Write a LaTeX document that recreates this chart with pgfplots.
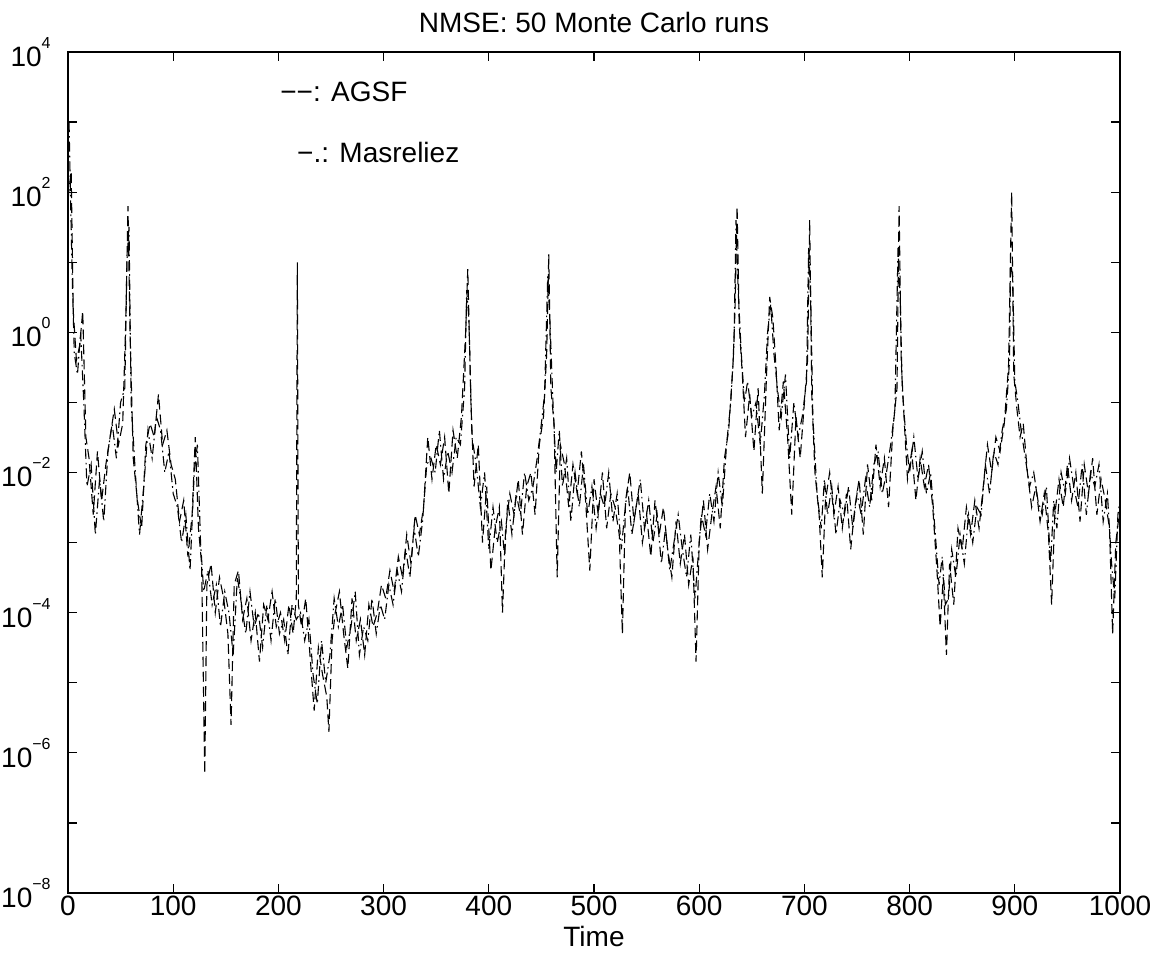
\documentclass[border=0pt]{standalone}
\usepackage{pgfplots}
\pgfplotsset{compat=1.18}
\usepackage{fontspec}
\setmainfont{Liberation Sans}
\newcommand{\tl}[1]{10\raisebox{9pt}{\fontsize{8}{9}\selectfont #1}}
\begin{document}
\fontsize{14}{17}\selectfont
\begin{tikzpicture}[font=\fontsize{14}{17}\selectfont]
\begin{axis}[
 scale only axis, width=526pt, height=420.5pt,
 xmin=0, xmax=1000, ymode=log, ymin=1e-8, ymax=1e4,
 xtick={0,100,200,300,400,500,600,700,800,900,1000},
 xticklabels={0,100,200,300,400,500,600,700,800,900,1000},
 ytick={1e-8,1e-7,1e-6,1e-5,1e-4,1e-3,1e-2,1e-1,1,1e1,1e2,1e3,1e4},
 yticklabels={\tl{−8},{},\tl{−6},{},\tl{−4},{},\tl{−2},{},\tl{0},{},\tl{2},{},\tl{4}},
 yminorticks=false, xminorticks=false,
 major tick length=4.5pt,
 axis line style={line width=0.6pt},
 tick style={line width=0.6pt, black},
 every axis title/.style={at={(axis description cs:0.5,1)}, anchor=base, yshift=10pt, inner sep=0pt},
 every axis x label/.style={at={(axis description cs:0.5,0)}, anchor=base, yshift=-26.5pt, inner sep=0pt},
 xticklabel style={anchor=base, yshift=-11pt, inner sep=0pt},
 yticklabel style={anchor=east, xshift=-8.5pt, inner sep=0pt},
 title={NMSE: 50 Monte Carlo runs},
 xlabel={Time},
]
\coordinate (sw) at (rel axis cs:0,0);
\coordinate (ne) at (rel axis cs:1,1);
% AGSF (dashed)
\addplot[black, line width=0.55pt, dash pattern=on 5pt off 2.5pt] table {
t y
0 80
3 200
5 2
8 0.4
11 0.63
14 2
17 0.032
20 0.016
24 0.0025
28 0.02
32 0.004
36 0.013
40 0.032
44 0.08
48 0.025
52 0.05
55 1.6
57 63
59 1
62 0.016
66 0.004
70 0.0016
74 0.025
78 0.05
82 0.032
86 0.13
90 0.025
94 0.04
98 0.013
102 0.008
106 0.002
110 0.004
114 6.3e-4
118 0.0025
121 0.032
124 0.0016
127 5e-4
130 5e-7
132 2.5e-4
136 5e-4
140 1e-4
144 3.2e-4
148 1.6e-4
152 5e-5
155 2.5e-6
158 2.5e-4
162 4e-4
166 8e-5
170 1.6e-4
174 4e-5
178 1e-4
182 2e-5
186 1.3e-4
190 8e-5
194 2e-4
198 6.3e-5
202 1e-4
206 4e-5
210 1.3e-4
214 5e-5
217 1.6e-4
218 10
219 1.3e-4
222 6.3e-5
226 1.6e-4
230 2.5e-5
234 4e-6
238 3.2e-5
242 1.3e-5
246 6.3e-6
248 2e-6
251 4e-5
254 1e-4
258 2e-4
262 5e-5
266 1.6e-5
270 1.6e-4
274 4e-5
278 8e-5
282 2.5e-5
286 1.3e-4
290 6.3e-5
294 1e-4
298 2.5e-4
302 1.6e-4
306 4e-4
310 2e-4
314 6.3e-4
318 3.2e-4
322 1.3e-3
326 5e-4
330 2.5e-3
334 1.3e-3
338 3.2e-3
342 0.032
346 0.008
350 0.025
354 0.013
358 0.032
362 0.005
366 0.04
370 0.016
374 0.063
378 1
380 8
383 0.1
386 0.0063
390 0.025
394 0.001
398 0.0063
402 4e-4
406 1.6e-3
410 3.2e-3
413 1e-4
416 1.6e-3
420 5e-3
424 2.5e-3
428 8e-3
432 1.3e-3
436 6.3e-3
440 0.01
444 2.5e-3
448 0.025
452 0.063
455 0.5
457 13
459 0.16
462 0.05
465 3.2e-4
468 0.025
472 0.013
476 3.2e-3
480 0.013
484 5e-3
488 0.02
492 4e-3
496 4e-4
500 8e-3
504 2.5e-3
508 0.01
512 1.6e-3
516 5e-3
520 3.2e-3
524 1.3e-3
527 5e-5
530 4e-3
534 0.01
538 2e-3
542 5e-3
546 1e-3
550 2.5e-3
554 6.3e-4
558 4e-3
562 1.3e-3
566 3.2e-3
570 8e-4
574 3.2e-4
578 2e-3
582 5e-4
586 1.3e-3
590 2.5e-4
594 6.3e-4
597 2e-5
600 1e-3
604 4e-3
608 8e-4
612 2.5e-3
616 6.3e-3
620 1.6e-3
624 0.016
628 0.04
632 0.32
634 2
636 63
638 1.3
641 0.25
644 0.032
648 0.13
652 0.02
656 0.16
660 5e-3
664 0.25
667 3.2
670 1.6
673 0.32
676 0.04
680 0.2
684 0.032
688 2.5e-3
692 0.063
696 0.016
700 0.1
703 0.4
705 40
707 0.13
710 0.01
714 2.5e-3
717 3.2e-4
720 4e-3
724 0.01
728 2.5e-3
732 6.3e-3
736 1.6e-3
740 5e-3
744 8e-4
748 3.2e-3
752 8e-3
756 1.3e-3
760 0.013
764 4e-3
768 0.025
772 6.3e-3
776 0.016
780 3.2e-3
784 0.04
788 0.16
790 63
792 0.4
795 0.05
798 8e-3
802 0.02
806 4e-3
810 0.016
814 6.3e-3
818 0.013
822 3.2e-3
826 4e-4
829 6.3e-5
832 3.2e-4
835 2.5e-5
838 5e-4
842 1.3e-4
846 1.6e-3
850 8e-4
854 3.2e-3
858 1.3e-3
862 4e-3
866 1.6e-3
870 6.3e-3
874 0.025
878 0.01
882 0.032
886 0.02
890 0.05
894 0.32
897 100
899 0.25
902 0.08
905 0.032
908 0.05
912 0.01
916 3.2e-3
920 6.3e-3
924 2e-3
928 5e-3
932 1.3e-3
935 1.3e-4
938 2.5e-3
942 8e-3
946 3.2e-3
950 0.013
954 4e-3
958 0.01
962 2e-3
966 0.013
970 5e-3
974 0.016
978 2.5e-3
982 8e-3
986 4e-3
990 1.6e-3
993 5e-5
996 1e-3
1000 3.2e-3
};
% Masreliez (dash-dot)
\addplot[black, line width=0.55pt, dash pattern=on 5pt off 2pt on 0.8pt off 2pt] table {
t y
1 1000
2 160
4 6.3
6 0.5
9 0.25
12 1
15 0.1
18 6.3e-3
22 0.013
26 1.3e-3
30 8e-3
34 2e-3
38 0.02
42 0.05
46 0.016
50 0.1
54 0.16
56 10
58 32
60 0.1
64 0.01
68 1.3e-3
72 6.3e-3
76 0.04
80 0.016
84 0.063
88 0.04
92 0.01
96 0.02
100 5e-3
104 3.2e-3
108 1e-3
112 2.5e-3
116 4e-4
120 0.01
123 0.025
126 1e-3
129 2e-4
133 4e-4
137 1.3e-4
141 2.5e-4
145 6.3e-5
149 2e-4
153 1e-4
157 2.5e-5
161 3.2e-4
165 1.3e-4
169 5e-5
173 2e-4
177 6.3e-5
181 1e-4
185 3.2e-5
189 1.3e-4
193 4e-5
197 1.6e-4
201 5e-5
205 8e-5
209 2.5e-5
213 1.3e-4
217 8e-5
221 1e-4
225 4e-5
229 8e-5
233 1.3e-5
237 5e-6
241 4e-5
245 1e-5
249 2.5e-5
253 1.6e-4
257 6.3e-5
261 1.3e-4
265 3.2e-5
269 6.3e-5
273 2e-4
277 2.5e-5
281 6.3e-5
285 4e-5
289 1.6e-4
293 5e-5
297 1.3e-4
301 8e-5
305 2.5e-4
309 1.3e-4
313 4e-4
317 2e-4
321 8e-4
325 3.2e-4
329 1.6e-3
333 6.3e-4
337 2e-3
341 0.013
345 0.016
349 0.01
353 0.04
357 8e-3
361 0.02
365 0.01
369 0.032
373 0.025
377 0.16
379 4
381 1.6
384 0.032
388 0.013
392 3.2e-3
396 0.01
400 8e-4
404 3.2e-3
408 1e-3
412 2e-3
415 6.3e-4
418 4e-3
422 1.3e-3
426 5e-3
430 2.5e-3
434 0.01
438 4e-3
442 6.3e-3
446 0.016
450 0.05
453 0.13
456 6.3
458 1.6
461 0.1
464 0.01
467 0.04
470 6.3e-3
474 0.016
478 2e-3
482 0.01
486 3.2e-3
490 0.013
494 2.5e-3
498 6.3e-3
502 1.6e-3
506 5e-3
510 3.2e-3
514 0.01
518 2e-3
522 5e-3
526 8e-4
529 2.5e-3
532 6.3e-3
536 1.3e-3
540 3.2e-3
544 8e-3
548 1.6e-3
552 4e-3
556 1e-3
560 2.5e-3
564 5e-4
568 1.6e-3
572 4e-4
576 1e-3
580 2.5e-3
584 8e-4
588 3.2e-4
592 1.3e-3
596 1.6e-4
599 6.3e-4
602 2.5e-3
606 1.3e-3
610 5e-3
614 2e-3
618 0.01
622 3.2e-3
626 0.025
630 0.1
633 0.63
635 40
637 4
640 0.5
643 0.1
646 0.2
650 0.063
654 0.1
658 0.025
662 0.13
665 1
668 2.5
671 0.5
675 0.13
678 0.063
682 0.25
686 0.016
690 0.1
694 0.032
698 0.063
702 0.2
704 16
706 3.2
708 0.063
712 5e-3
716 1.6e-3
719 8e-3
722 2.5e-3
726 6.3e-3
730 1.3e-3
734 4e-3
738 2.5e-3
742 6.3e-3
746 1.6e-3
750 5e-3
754 2.5e-3
758 8e-3
762 3.2e-3
766 0.013
770 0.02
774 5e-3
778 0.01
782 0.025
786 0.08
789 16
791 3.2
793 0.16
797 0.025
800 0.01
804 0.032
808 8e-3
812 0.02
816 5e-3
820 0.01
824 1.6e-3
828 2.5e-4
831 6.3e-4
834 1.3e-4
837 1.6e-4
840 8e-4
844 3.2e-4
848 1.3e-3
852 5e-4
856 2.5e-3
860 1e-3
864 3.2e-3
868 2.5e-3
872 0.013
876 5e-3
880 0.02
884 0.013
888 0.04
892 0.08
895 0.4
896 10
898 6.3
900 0.2
903 0.1
906 0.04
910 0.016
914 6.3e-3
918 0.01
922 4e-3
926 2.5e-3
930 6.3e-3
934 5e-4
937 4e-3
940 1.6e-3
944 0.01
948 5e-3
952 0.016
956 6.3e-3
960 3.2e-3
964 0.013
968 2.5e-3
972 0.01
976 6.3e-3
980 0.013
984 2e-3
988 5e-3
992 5e-4
995 1.6e-4
998 2.5e-3
1000 4e-3
};
\node[anchor=base west, inner sep=0pt] at (axis cs:201.5,1936) {−−: AGSF};
\node[anchor=base west, inner sep=0pt] at (axis cs:217.5,269) {−.: Masreliez};
\end{axis}
\pgfresetboundingbox
\path ([xshift=-34pt,yshift=-31pt]sw) rectangle ([xshift=20pt,yshift=26pt]ne);
\end{tikzpicture}
\end{document}
